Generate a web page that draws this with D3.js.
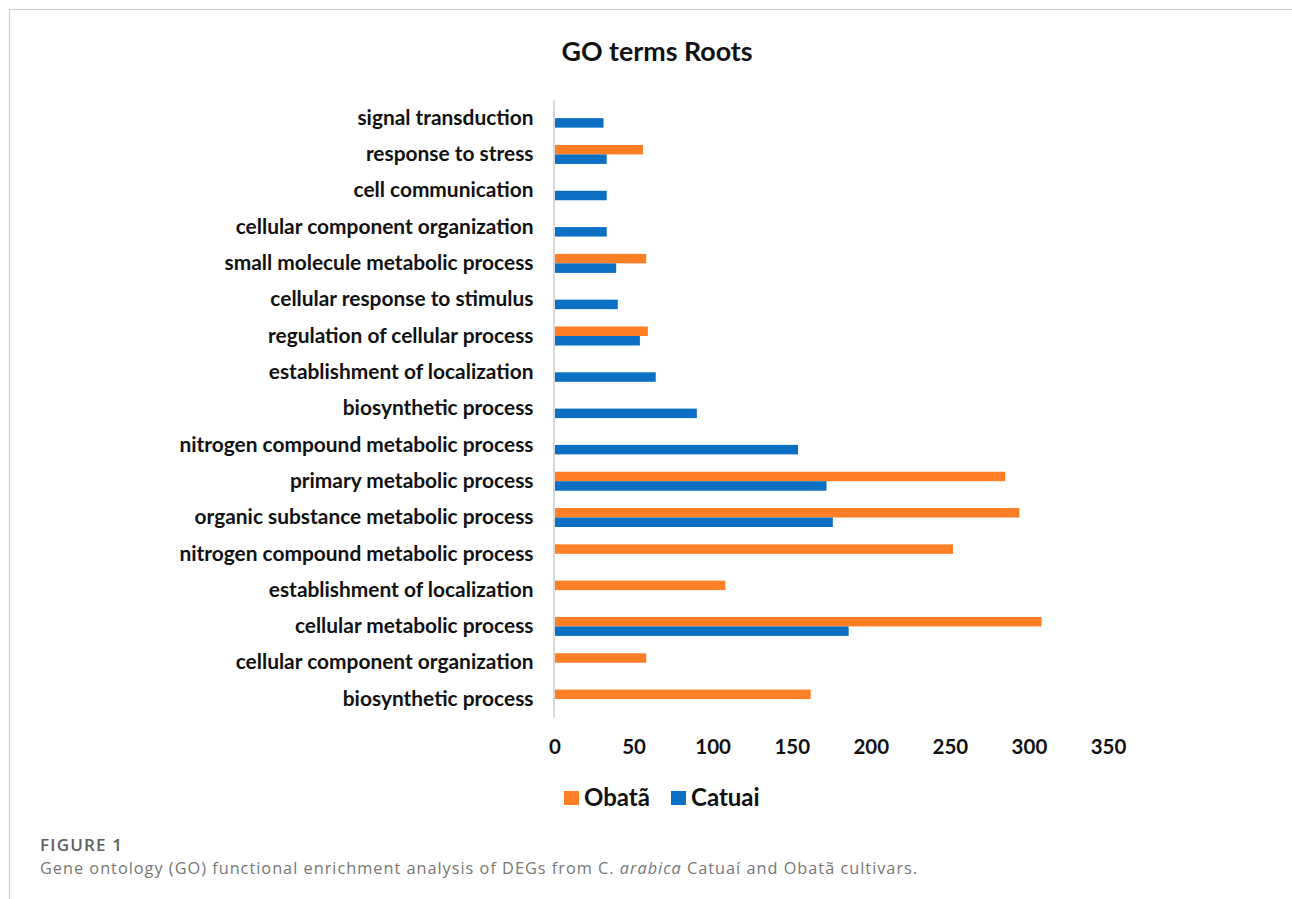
<!DOCTYPE html>
<html>
<head>
<meta charset="utf-8">
<script src="https://cdn.jsdelivr.net/npm/d3@7"></script>
<style>
  body { margin: 0; background: #fff; }
  svg { display: block; }
</style>
</head>
<body>
<script>
// categories, top to bottom (some names appear twice in the original)
var categories = [
  "signal transduction",
  "response to stress",
  "cell communication",
  "cellular component organization",
  "small molecule metabolic process",
  "cellular response to stimulus",
  "regulation of cellular process",
  "establishment of localization",
  "biosynthetic process",
  "nitrogen compound metabolic process",
  "primary metabolic process",
  "organic substance metabolic process",
  "nitrogen compound metabolic process",
  "establishment of localization",
  "cellular metabolic process",
  "cellular component organization",
  "biosynthetic process"
];

// series values (null = no bar)
var obata  = [null, 56, null, null, 58, null, 59, null, null, null, 285, 294, 252, 108, 308, 58, 162];
var catuai = [31, 33, 33, 33, 39, 40, 54, 64, 90, 154, 172, 176, null, null, 186, null, null];

var seriesNames = ["Obatã", "Catuai"];
var seriesColors = ["#ff7f27", "#0b6fc4"];
var xTicks = [0, 50, 100, 150, 200, 250, 300, 350];

var W = 1292, H = 899;
var svg = d3.select("body").append("svg").attr("width", W).attr("height", H);

// frame lines (top and left)
svg.append("line").attr("x1", 9).attr("x2", W).attr("y1", 9.5).attr("y2", 9.5)
   .attr("stroke", "#cfcfcf").attr("stroke-width", 1.2);
svg.append("line").attr("x1", 9.5).attr("x2", 9.5).attr("y1", 9).attr("y2", H)
   .attr("stroke", "#cfcfcf").attr("stroke-width", 1.2);

var font = "Lato, 'Open Sans', sans-serif";

// title
svg.append("text")
   .attr("x", 657).attr("y", 61)
   .attr("text-anchor", "middle")
   .style("font-family", font).style("font-weight", "bold").style("font-size", "26.8px")
   .attr("fill", "#111")
   .text("GO terms Roots");

// scales
var x = d3.scaleLinear().domain([0, 350]).range([554.5, 1108]);

var y = d3.scaleBand()
    .domain(d3.range(categories.length))
    .range([100, 717.2])
    .paddingInner(0.477)
    .paddingOuter(0.2385);

var ySub = d3.scaleBand().domain([0, 1]).range([0, y.bandwidth()]);

// rows of data built from the arrays
var rows = categories.map(function(c, i) {
  return { i: i, name: c, values: [obata[i], catuai[i]] };
});

var groups = svg.append("g").selectAll("g")
    .data(rows)
    .enter().append("g")
    .attr("transform", function(d) { return "translate(0," + y(d.i) + ")"; });

groups.selectAll("rect")
    .data(function(d) {
      return d.values.map(function(v, k) { return { k: k, v: v }; })
                     .filter(function(e) { return e.v != null; });
    })
    .enter().append("rect")
    .attr("x", x(0))
    .attr("y", function(d) { return ySub(d.k); })
    .attr("height", ySub.bandwidth())
    .attr("width", function(d) { return x(d.v) - x(0); })
    .attr("fill", function(d) { return seriesColors[d.k]; });

// vertical axis line + category labels
var yAxis = svg.append("g")
    .attr("transform", "translate(553.5,0)")
    .call(d3.axisLeft(y).tickSize(0).tickPadding(20)
            .tickFormat(function(i) { return categories[i]; }));
yAxis.select(".domain").attr("stroke", "#d9d9d9").attr("stroke-width", 2);
yAxis.selectAll("text")
    .style("font-family", font).style("font-weight", "bold").style("font-size", "20.9px")
    .attr("fill", "#111");

// bottom axis labels
var xAxis = svg.append("g")
    .attr("transform", "translate(0,731)")
    .call(d3.axisBottom(x).tickValues(xTicks).tickSize(0).tickPadding(8));
xAxis.select(".domain").remove();
xAxis.selectAll("text")
    .style("font-family", font).style("font-weight", "bold").style("font-size", "20.5px")
    .attr("fill", "#111");

// legend
var legend = svg.append("g").attr("transform", "translate(564,791)");
var lx = [0, 107];
seriesNames.forEach(function(s, k) {
  legend.append("rect").attr("x", lx[k]).attr("y", 0).attr("width", 15).attr("height", 14)
        .attr("fill", seriesColors[k]);
  legend.append("text").attr("x", lx[k] + 20).attr("y", 15)
        .style("font-family", font).style("font-weight", "bold").style("font-size", "24px")
        .attr("fill", "#111")
        .text(s);
});

// caption
svg.append("text").attr("x", 40).attr("y", 851)
   .style("font-family", "'Open Sans', sans-serif").style("font-size", "17px")
   .style("font-weight", "600")
   .style("letter-spacing", "1.2px")
   .attr("fill", "#5f5f5f")
   .text("FIGURE 1");

var cap = svg.append("text").attr("x", 40).attr("y", 874)
   .style("font-family", "'Open Sans', sans-serif").style("font-size", "16.3px")
   .style("letter-spacing", "1px")
   .attr("fill", "#777");
cap.append("tspan").text("Gene ontology (GO) functional enrichment analysis of DEGs from C. ");
cap.append("tspan").style("font-style", "italic").text("arabica");
cap.append("tspan").text(" Catuaí and Obatã cultivars.");
</script>
</body>
</html>
